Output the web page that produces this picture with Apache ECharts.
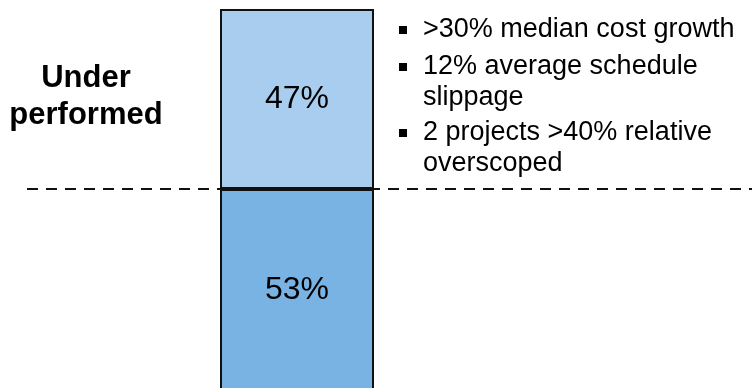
<!DOCTYPE html>
<html>
<head>
<meta charset="utf-8">
<script src="https://cdn.jsdelivr.net/npm/echarts@6/dist/echarts.min.js"></script>
<style>
  html, body { margin: 0; padding: 0; background: #fff; overflow: hidden; }
  #chart { width: 752px; height: 400px; }
</style>
</head>
<body>
<div id="chart"></div>
<script>
// Share of projects split at the performance threshold
const categories = ['Projects'];
const metShare = [53];
const underShare = [47];
const groupLabel = 'Under\nperformed';
const findings = [
  '>30% median cost growth',
  '12% average schedule\nslippage',
  '2 projects >40% relative\noverscoped'
];

const FONT = '"Liberation Sans", Arial, Helvetica, sans-serif';
const chart = echarts.init(document.getElementById('chart'), null, { renderer: 'canvas' });

const segLabel = {
  show: true,
  position: 'inside',
  formatter: p => p.value + '%',
  color: '#000',
  fontFamily: FONT,
  fontSize: 32
};

chart.setOption({
  animation: false,
  grid: { left: 220, width: 154, top: 9, height: 383 },
  xAxis: { type: 'category', data: categories, show: false },
  yAxis: { type: 'value', min: 0, max: 100, show: false },
  series: [
    {
      type: 'bar', stack: 'share', data: metShare, barWidth: '100%', z: 3,
      itemStyle: { color: '#79b3e4', borderColor: '#111', borderWidth: 2 },
      label: segLabel
    },
    {
      type: 'bar', stack: 'share', data: underShare, barWidth: '100%', z: 3,
      itemStyle: { color: '#a8cdee', borderColor: '#111', borderWidth: 2 },
      label: segLabel
    }
  ]
});

// Threshold line at the boundary between the two segments
const yDivide = chart.convertToPixel({ gridIndex: 0 }, [0, metShare[0]])[1];

const graphics = [
  {
    type: 'line', z: 1,
    shape: { x1: 27, y1: yDivide, x2: 752, y2: yDivide },
    style: { stroke: '#111', lineWidth: 2, lineDash: [11, 8] }
  },
  {
    type: 'text', x: 86, y: 97,
    style: {
      text: groupLabel, fill: '#000', font: 'bold 31px ' + FONT,
      align: 'center', verticalAlign: 'middle', lineHeight: 37
    }
  }
];

const bulletY = [30, 67, 133];
findings.forEach((txt, i) => {
  graphics.push({
    type: 'rect', shape: { x: 399, y: bulletY[i] - 4, width: 8, height: 8 },
    style: { fill: '#000' }
  });
  graphics.push({
    type: 'text', x: 423, y: bulletY[i] - 15.5,
    style: {
      text: txt, fill: '#000', font: '27px ' + FONT,
      align: 'left', verticalAlign: 'top', lineHeight: 31
    }
  });
});

chart.setOption({ graphic: graphics });
</script>
</body>
</html>
